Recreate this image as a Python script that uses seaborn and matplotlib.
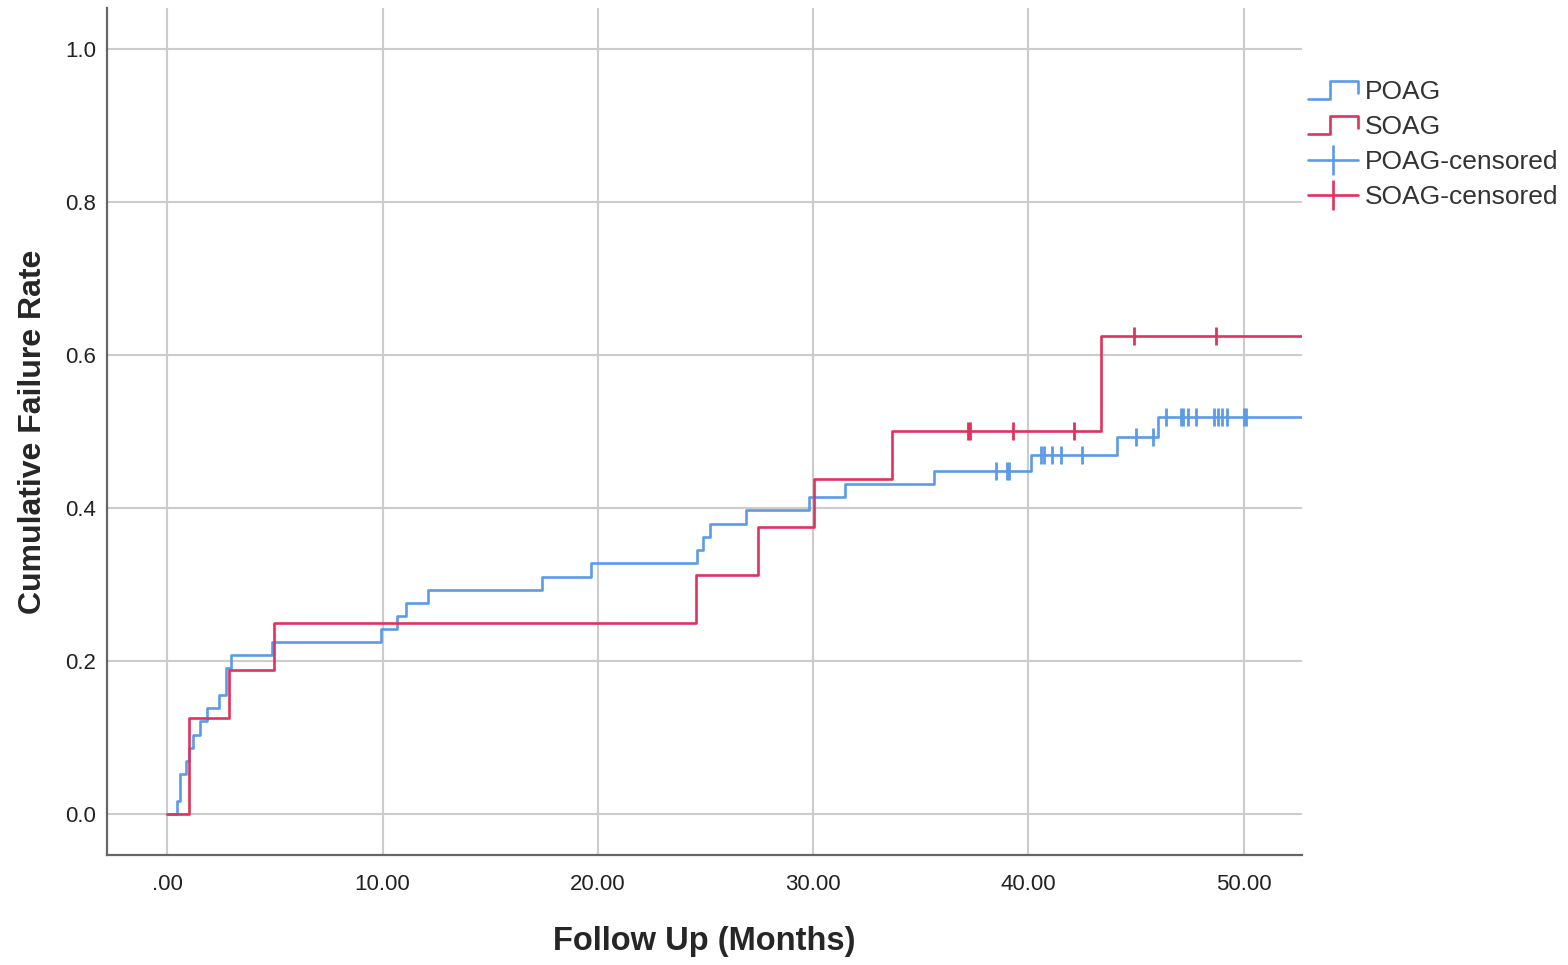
import numpy as np
import pandas as pd
import seaborn as sns
import matplotlib.pyplot as plt
from matplotlib.lines import Line2D
from matplotlib.legend_handler import HandlerBase

sns.set_theme(style="whitegrid")
plt.rcParams['font.family'] = ['Liberation Sans', 'DejaVu Sans']

# Courbes de Kaplan-Meier (échelons)
poag_t = [0, 0.45, 0.6, 0.85, 1.0, 1.2, 1.5, 1.85, 2.4, 2.75, 2.95, 4.85, 9.95, 10.65,
          11.1, 12.1, 17.4, 19.7, 24.6, 24.9, 25.2, 26.9, 29.8, 31.5, 35.6, 40.1, 44.1, 46.0]
poag_y = [0, 0.017, 0.052, 0.069, 0.086, 0.103, 0.121, 0.138, 0.155, 0.190, 0.207, 0.224,
          0.241, 0.259, 0.276, 0.293, 0.310, 0.328, 0.345, 0.362, 0.379, 0.397, 0.414,
          0.431, 0.448, 0.469, 0.493, 0.519]
poag_end = 53.0

soag_t = [0, 1.0, 2.85, 4.95, 24.55, 27.45, 30.05, 33.65, 43.35]
soag_y = [0, 0.125, 0.1875, 0.25, 0.3125, 0.375, 0.4375, 0.5, 0.625]
soag_end = 53.0

# Observations censurées
poag_cens_t = [38.5, 39.0, 39.1, 40.6, 40.7, 41.1, 41.5, 42.5, 45.0, 45.8,
               46.4, 47.1, 47.2, 47.4, 47.8, 48.6, 48.8, 49.0, 49.2, 50.0, 50.1]
poag_cens_y = [0.448, 0.448, 0.448, 0.469, 0.469, 0.469, 0.469, 0.469, 0.493, 0.493,
               0.519, 0.519, 0.519, 0.519, 0.519, 0.519, 0.519, 0.519, 0.519, 0.519, 0.519]
soag_cens_t = [37.2, 37.3, 39.3, 42.1, 44.9, 48.7]
soag_cens_y = [0.5, 0.5, 0.5, 0.5, 0.625, 0.625]

groups = ['POAG', 'SOAG']
colors = {'POAG': '#5b9be8', 'SOAG': '#e0325e'}

curves = pd.concat([
    pd.DataFrame({'t': poag_t + [poag_end], 'y': poag_y + [poag_y[-1]], 'groupe': 'POAG'}),
    pd.DataFrame({'t': soag_t + [soag_end], 'y': soag_y + [soag_y[-1]], 'groupe': 'SOAG'}),
], ignore_index=True)
cens = pd.concat([
    pd.DataFrame({'t': poag_cens_t, 'y': poag_cens_y, 'groupe': 'POAG'}),
    pd.DataFrame({'t': soag_cens_t, 'y': soag_cens_y, 'groupe': 'SOAG'}),
], ignore_index=True)

fig = plt.figure(figsize=(15.68, 9.65), dpi=100)
ax = fig.add_axes([0.0682, 0.114, 0.7621, 0.8777])

for g in groups:
    sns.lineplot(data=curves[curves.groupe == g], x='t', y='y', color=colors[g],
                 drawstyle='steps-post', linewidth=1.9, estimator=None, sort=False,
                 ax=ax, legend=False)
    sub = cens[cens.groupe == g]
    ax.plot(sub.t, sub.y, linestyle='none', marker='|', markersize=13,
            markeredgewidth=2.0, color=colors[g])

ax.set_xlim(-2.8, 52.7)
ax.set_ylim(-0.054, 1.054)
ax.set_xticks([0, 10, 20, 30, 40, 50])
ax.set_xticklabels(['.00', '10.00', '20.00', '30.00', '40.00', '50.00'])
ax.set_yticks([0, 0.2, 0.4, 0.6, 0.8, 1.0])
ax.set_yticklabels(['0.0', '0.2', '0.4', '0.6', '0.8', '1.0'])
ax.tick_params(axis='x', length=0, pad=14, labelsize=16, labelcolor='#222222')
ax.tick_params(axis='y', length=0, pad=8, labelsize=16, labelcolor='#222222')

ax.grid(True, color='#cccccc', linewidth=1.5)
ax.set_facecolor('white')
for s in ['top', 'right']:
    ax.spines[s].set_visible(False)
for s in ['left', 'bottom']:
    ax.spines[s].set_visible(True)
    ax.spines[s].set_color('#666666')
    ax.spines[s].set_linewidth(1.6)

ax.set_xlabel('Follow Up (Months)', fontsize=23.5, fontweight='bold', labelpad=22)
ax.set_ylabel('Cumulative Failure Rate', fontsize=23, fontweight='bold', labelpad=12)


class StepHandler(HandlerBase):
    def create_artists(self, legend, orig_handle, xdescent, ydescent, width, height,
                       fontsize, trans):
        x0, y0 = -xdescent, -ydescent
        xs = [x0, x0 + 0.45 * width, x0 + 0.45 * width, x0 + width, x0 + width]
        ys = [y0 + 0.0 * height, y0 + 0.0 * height, y0 + 1.0 * height,
              y0 + 1.0 * height, y0 + 0.35 * height]
        ln = Line2D(xs, ys, color=orig_handle.get_color(), linewidth=1.9, transform=trans)
        return [ln]


handles = [
    Line2D([], [], color=colors['POAG']),
    Line2D([], [], color=colors['SOAG']),
    Line2D([], [], color=colors['POAG'], marker='|', markersize=22, markeredgewidth=1.9, linewidth=1.9),
    Line2D([], [], color=colors['SOAG'], marker='|', markersize=22, markeredgewidth=1.9, linewidth=1.9),
]
labels = ['POAG', 'SOAG', 'POAG-censored', 'SOAG-censored']
fig.legend(handles, labels, loc='upper left', bbox_to_anchor=(0.834, 0.917),
           frameon=False, fontsize=19, handlelength=1.9, handletextpad=0.26,
           labelspacing=0.42, borderaxespad=0, borderpad=0, labelcolor='#333333',
           handler_map={handles[0]: StepHandler(), handles[1]: StepHandler()})

fig.savefig('out.png', dpi=100)
